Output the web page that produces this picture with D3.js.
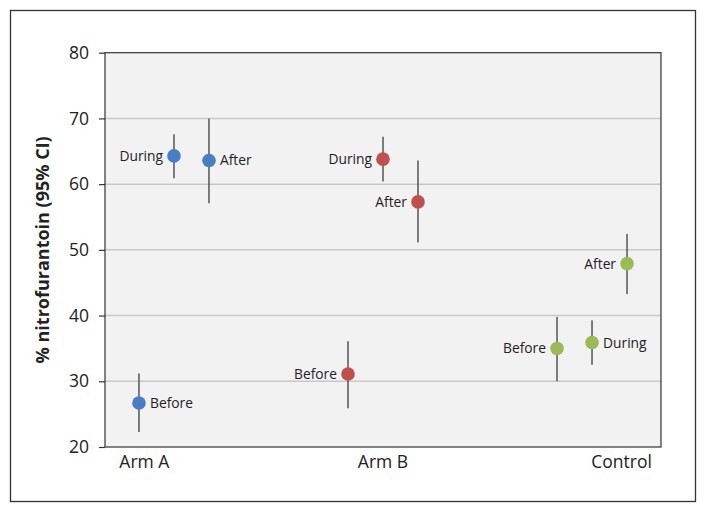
<!DOCTYPE html>
<html><head><meta charset="utf-8">
<script src="https://cdn.jsdelivr.net/npm/d3@7"></script>
<style>body{margin:0;background:#fff;} text{font-family:"Open Sans",sans-serif;}</style>
</head><body>
<svg id="c" width="706" height="513"></svg>
<script>
const arms = ["Arm A", "Arm B", "Control"];
const phases = ["Before", "During", "After"];
const armColors = ["#4a7ec2", "#c0504d", "#9bbb59"];
const yTicks = [20, 30, 40, 50, 60, 70, 80];
// estimates per arm, ordered Before, During, After
const estimates = [[26.7, 64.3, 63.6], [31.1, 63.8, 57.3], [35.0, 35.9, 47.9]];
const lowerCI = [[22.3, 60.9, 57.1], [25.9, 60.4, 51.1], [30.0, 32.5, 43.3]];
const upperCI = [[31.2, 67.6, 70.0], [36.1, 67.2, 63.6], [39.8, 39.3, 52.4]];
const labelSide = [["right", "left", "right"], ["left", "left", "left"], ["left", "right", "left"]];

const svg = d3.select("#c");
const L = 105, R = 661, T = 52.7, B = 447;

svg.append("rect").attr("x", 10.5).attr("y", 10.5).attr("width", 685).attr("height", 491)
  .attr("fill", "#fff").attr("stroke", "#333").attr("stroke-width", 1.3);

const y = d3.scaleLinear().domain([20, 80]).range([B, T]);
const xArm = d3.scalePoint().domain(arms).range([L, R]).padding(0.33);
const xLab = d3.scalePoint().domain(arms).range([L, R]).padding(0.165);
const xPh = d3.scalePoint().domain(phases).range([-35, 35]);

svg.append("rect").attr("x", L).attr("y", T).attr("width", R - L).attr("height", B - T).attr("fill", "#f2f2f2");

svg.append("g").selectAll("line").data(yTicks.filter(v => v > 20 && v < 80)).join("line")
  .attr("x1", L).attr("x2", R).attr("y1", d => y(d)).attr("y2", d => y(d))
  .attr("stroke", "#c8c8c8").attr("stroke-width", 1.5);

svg.append("rect").attr("x", L).attr("y", T).attr("width", R - L).attr("height", B - T)
  .attr("fill", "none").attr("stroke", "#333").attr("stroke-width", 1.2);

const yAxis = d3.axisLeft(y).tickValues(yTicks).tickSize(6).tickPadding(10).tickFormat(d3.format("d"));
const ga = svg.append("g").attr("transform", `translate(${L},0)`).call(yAxis);
ga.select(".domain").remove();
ga.selectAll(".tick line").attr("stroke", "#333").attr("stroke-width", 1.2);
ga.selectAll(".tick text").attr("font-size", 17.5).attr("fill", "#222").style("font-family", "'Open Sans',sans-serif");

svg.append("text").attr("transform", `translate(49,${(T + B) / 2}) rotate(-90)`)
  .attr("text-anchor", "middle").attr("font-size", 18).attr("font-weight", "bold").attr("fill", "#222")
  .text("% nitrofurantoin (95% CI)");

svg.append("g").selectAll("text").data(arms).join("text")
  .attr("x", d => xLab(d)).attr("y", B + 21).attr("text-anchor", "middle")
  .attr("font-size", 17.5).attr("fill", "#222").text(d => d);

const pts = [];
arms.forEach((a, i) => phases.forEach((p, j) => pts.push({
  arm: a, phase: p, color: armColors[i], v: estimates[i][j], lo: lowerCI[i][j], hi: upperCI[i][j], side: labelSide[i][j]
})));

const g = svg.append("g");
g.selectAll("line.ci").data(pts).join("line").attr("class", "ci")
  .attr("x1", d => xArm(d.arm) + xPh(d.phase)).attr("x2", d => xArm(d.arm) + xPh(d.phase))
  .attr("y1", d => y(d.lo)).attr("y2", d => y(d.hi)).attr("stroke", "#555").attr("stroke-width", 1.5);
g.selectAll("circle").data(pts).join("circle")
  .attr("cx", d => xArm(d.arm) + xPh(d.phase)).attr("cy", d => y(d.v)).attr("r", 6.8).attr("fill", d => d.color);
g.selectAll("text").data(pts).join("text")
  .attr("x", d => xArm(d.arm) + xPh(d.phase) + (d.side === "right" ? 11 : -11))
  .attr("y", d => y(d.v) + 5).attr("text-anchor", d => d.side === "right" ? "start" : "end")
  .attr("font-size", 13.8).attr("fill", "#222").text(d => d.phase);
</script>
</body></html>
